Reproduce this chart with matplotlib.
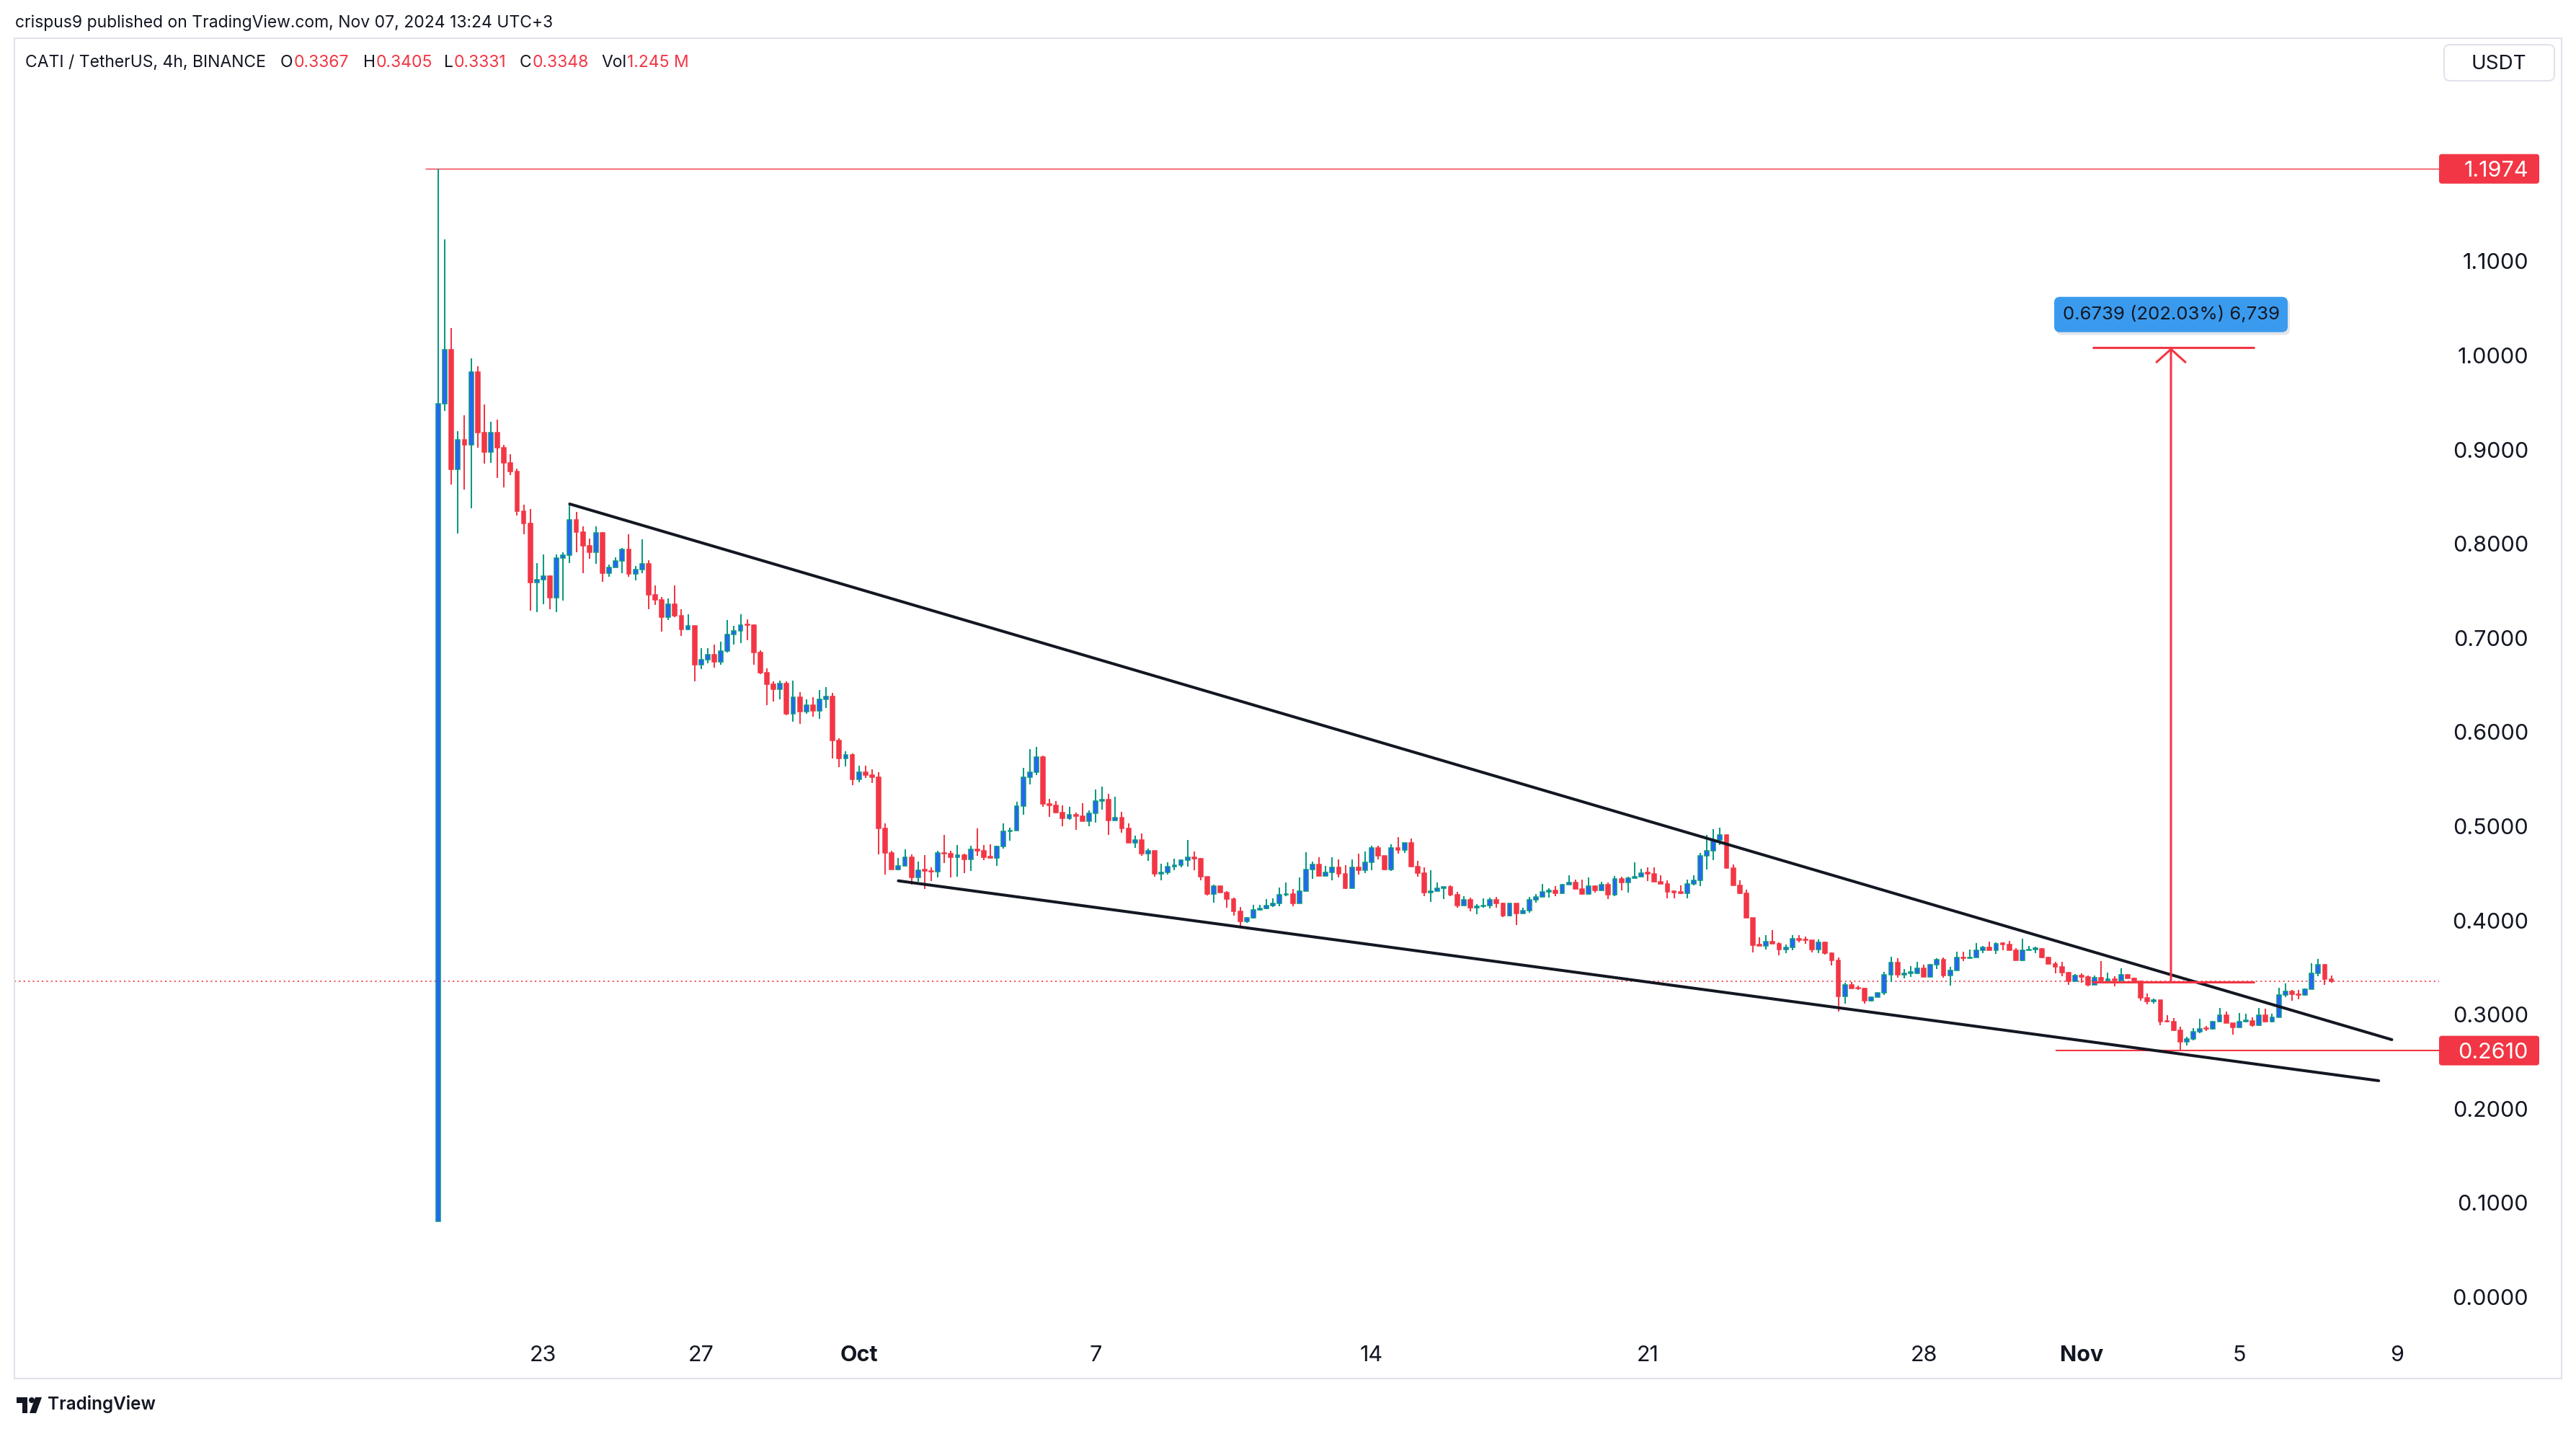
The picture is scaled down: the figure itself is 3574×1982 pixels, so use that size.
import numpy as np
import pandas as pd
import matplotlib
matplotlib.use("Agg")
import matplotlib.pyplot as plt
import matplotlib.dates as mdates
from matplotlib.patches import Rectangle, FancyBboxPatch, Circle, Polygon
from matplotlib.transforms import IdentityTransform, ScaledTranslation, blended_transform_factory

plt.rcParams["font.family"] = ["Inter", "DejaVu Sans"]

# ---- CATI/USDT 4h candles ----
start_time = "2024-09-20 08:00"
first_open = 0.080

close = [
    0.948, 1.005, 0.878, 0.910, 0.904, 0.982, 0.917, 0.897, 0.917, 0.901,
    0.885, 0.876, 0.834, 0.821, 0.758, 0.761, 0.765, 0.742, 0.784, 0.787,
    0.825, 0.812, 0.797, 0.790, 0.811, 0.768, 0.774, 0.781, 0.793, 0.767,
    0.772, 0.778, 0.745, 0.740, 0.721, 0.735, 0.723, 0.708, 0.712, 0.671,
    0.676, 0.6815, 0.674, 0.685, 0.703, 0.707, 0.713, 0.7125, 0.684, 0.6625,
    0.650, 0.645, 0.6505, 0.619, 0.636, 0.621, 0.6275, 0.622, 0.634, 0.637,
    0.590, 0.571, 0.575, 0.549, 0.557, 0.5536, 0.551, 0.497, 0.4706, 0.4535,
    0.4568, 0.466, 0.445, 0.4527, 0.452, 0.4507, 0.471, 0.4698, 0.466, 0.4686,
    0.4642, 0.4749, 0.4731, 0.466, 0.4655, 0.4775, 0.4936, 0.4949, 0.5204, 0.551,
    0.5566, 0.5727, 0.5229, 0.5216, 0.514, 0.5076, 0.5114, 0.5102, 0.5048, 0.5127,
    0.5257, 0.5273, 0.5056, 0.5084, 0.4969, 0.4818, 0.4846, 0.4701, 0.4731, 0.4489,
    0.4502, 0.456, 0.4578, 0.4629, 0.4662, 0.465, 0.4458, 0.4272, 0.4354, 0.4285,
    0.4221, 0.4086, 0.3978, 0.4017, 0.4101, 0.4119, 0.415, 0.417, 0.4264, 0.4274,
    0.4175, 0.4303, 0.4532, 0.4586, 0.4463, 0.4502, 0.4553, 0.4489, 0.4336, 0.4553,
    0.4527, 0.4611, 0.4762, 0.468, 0.4532, 0.4762, 0.4737, 0.4814, 0.4566, 0.4497,
    0.429, 0.4306, 0.4331, 0.4349, 0.4268, 0.4152, 0.4209, 0.4127, 0.414, 0.415,
    0.4209, 0.4176, 0.4043, 0.4171, 0.4068, 0.4099, 0.4209, 0.4242, 0.4293, 0.431,
    0.4278, 0.4375, 0.4393, 0.4329, 0.4273, 0.4354, 0.4311, 0.437, 0.4268, 0.4431,
    0.4393, 0.4439, 0.4459, 0.4497, 0.449, 0.4406, 0.4383, 0.4298, 0.429, 0.4283,
    0.4383, 0.4421, 0.4676, 0.4732, 0.4847, 0.4898, 0.4546, 0.4362, 0.4278, 0.4023,
    0.3731, 0.3724, 0.377, 0.3742, 0.3686, 0.3703, 0.38, 0.3782, 0.378, 0.3686,
    0.3757, 0.3647, 0.3571, 0.3188, 0.3308, 0.3272, 0.3268, 0.3137, 0.3175, 0.3221,
    0.3418, 0.3545, 0.3418, 0.343, 0.3433, 0.3481, 0.3392, 0.3525, 0.3576, 0.341,
    0.3464, 0.3596, 0.359, 0.36, 0.3673, 0.3703, 0.3678, 0.3745, 0.374, 0.3673,
    0.3571, 0.3673, 0.3686, 0.369, 0.3596, 0.3532, 0.3499, 0.3438, 0.3348, 0.3405,
    0.3395, 0.3308, 0.3387, 0.3354, 0.3362, 0.3356, 0.3417, 0.3379, 0.3348, 0.3167,
    0.3129, 0.3145, 0.292, 0.2915, 0.2825, 0.2703, 0.2733, 0.2813, 0.2843, 0.284,
    0.2915, 0.2983, 0.2902, 0.2856, 0.292, 0.2928, 0.2881, 0.2983, 0.292, 0.2966,
    0.32, 0.3239, 0.3206, 0.32, 0.3264, 0.343, 0.352, 0.3367, 0.3348,
]

high = [
    1.1974, 1.1225, 1.028, 0.919, 0.936, 0.996, 0.988, 0.947, 0.929, 0.931,
    0.904, 0.894, 0.879, 0.841, 0.836, 0.779, 0.788, 0.766, 0.788, 0.790,
    0.841, 0.833, 0.818, 0.805, 0.818, 0.812, 0.777, 0.785, 0.795, 0.809,
    0.776, 0.804, 0.782, 0.755, 0.743, 0.741, 0.755, 0.730, 0.724, 0.711,
    0.688, 0.688, 0.692, 0.695, 0.718, 0.712, 0.724, 0.719, 0.714, 0.686,
    0.667, 0.653, 0.654, 0.653, 0.654, 0.642, 0.634, 0.636, 0.644, 0.647,
    0.641, 0.593, 0.579, 0.5765, 0.5635, 0.5635, 0.560, 0.557, 0.502, 0.473,
    0.4655, 0.4744, 0.469, 0.4617, 0.4686, 0.4553, 0.473, 0.4897, 0.473, 0.479,
    0.470, 0.4783, 0.4966, 0.4795, 0.4803, 0.4788, 0.5025, 0.4974, 0.525, 0.5612,
    0.5809, 0.5834, 0.5745, 0.528, 0.526, 0.5211, 0.5199, 0.514, 0.5237, 0.516,
    0.5382, 0.5413, 0.5337, 0.5306, 0.5145, 0.5023, 0.489, 0.4915, 0.4752, 0.4731,
    0.4591, 0.4611, 0.4647, 0.4637, 0.4846, 0.4724, 0.4655, 0.446, 0.4374, 0.4367,
    0.4305, 0.4234, 0.4132, 0.403, 0.4157, 0.4157, 0.4221, 0.4226, 0.4344, 0.4395,
    0.4323, 0.4451, 0.4719, 0.4617, 0.466, 0.4573, 0.4662, 0.4637, 0.4578, 0.4637,
    0.4701, 0.4727, 0.4787, 0.4787, 0.468, 0.48, 0.4878, 0.4814, 0.486, 0.4625,
    0.4553, 0.4523, 0.4395, 0.4352, 0.4362, 0.4293, 0.4247, 0.4235, 0.4166, 0.4227,
    0.4235, 0.4242, 0.4184, 0.4171, 0.4176, 0.4125, 0.4242, 0.4273, 0.438, 0.4331,
    0.4354, 0.438, 0.4472, 0.4426, 0.4426, 0.4446, 0.4362, 0.44, 0.4393, 0.4464,
    0.4456, 0.4456, 0.461, 0.4541, 0.4554, 0.4554, 0.4472, 0.4421, 0.4311, 0.4362,
    0.4426, 0.4469, 0.4712, 0.4898, 0.4962, 0.4975, 0.490, 0.4587, 0.4418, 0.4319,
    0.4023, 0.3813, 0.3834, 0.389, 0.3757, 0.3737, 0.3834, 0.3839, 0.3818, 0.3782,
    0.3788, 0.377, 0.3652, 0.3596, 0.3328, 0.3341, 0.33, 0.3281, 0.318, 0.3226,
    0.3443, 0.3604, 0.3589, 0.3474, 0.3507, 0.355, 0.352, 0.3527, 0.3589, 0.3596,
    0.3502, 0.366, 0.366, 0.368, 0.375, 0.3724, 0.3765, 0.3757, 0.376, 0.3773,
    0.3698, 0.38, 0.3719, 0.3716, 0.3696, 0.3609, 0.355, 0.355, 0.3443, 0.3425,
    0.343, 0.3405, 0.3405, 0.3558, 0.3435, 0.34, 0.3481, 0.3423, 0.3387, 0.3353,
    0.3213, 0.3162, 0.3145, 0.2983, 0.2953, 0.2864, 0.2754, 0.2848, 0.2946, 0.2869,
    0.2925, 0.306, 0.3022, 0.2902, 0.3009, 0.3001, 0.2964, 0.306, 0.3052, 0.3001,
    0.3277, 0.3323, 0.3251, 0.3251, 0.3272, 0.3537, 0.3583, 0.3527, 0.3405,
]

low = [
    0.080, 0.940, 0.862, 0.810, 0.857, 0.837, 0.901, 0.884, 0.885, 0.869,
    0.859, 0.872, 0.829, 0.809, 0.728, 0.727, 0.735, 0.730, 0.727, 0.739,
    0.779, 0.790, 0.768, 0.783, 0.778, 0.759, 0.764, 0.774, 0.768, 0.764,
    0.760, 0.768, 0.730, 0.734, 0.706, 0.718, 0.721, 0.701, 0.7075, 0.653,
    0.666, 0.672, 0.668, 0.671, 0.684, 0.692, 0.694, 0.697, 0.671, 0.661,
    0.628, 0.632, 0.634, 0.617, 0.610, 0.608, 0.619, 0.6155, 0.6135, 0.625,
    0.571, 0.562, 0.563, 0.543, 0.546, 0.5505, 0.545, 0.469, 0.448, 0.4535,
    0.4527, 0.4568, 0.437, 0.440, 0.433, 0.4412, 0.4446, 0.4604, 0.445, 0.4458,
    0.4497, 0.4515, 0.468, 0.4629, 0.4655, 0.4573, 0.4752, 0.4841, 0.4949, 0.5114,
    0.5439, 0.5536, 0.5199, 0.5094, 0.5127, 0.4994, 0.5058, 0.4956, 0.5048, 0.4994,
    0.5033, 0.5165, 0.4903, 0.505, 0.4923, 0.4818, 0.4762, 0.468, 0.4624, 0.4458,
    0.442, 0.448, 0.4522, 0.4553, 0.4565, 0.4527, 0.442, 0.4259, 0.4183, 0.4285,
    0.4124, 0.4042, 0.3914, 0.397, 0.4012, 0.4093, 0.4114, 0.4132, 0.414, 0.4247,
    0.414, 0.4175, 0.4303, 0.443, 0.4463, 0.4463, 0.442, 0.4451, 0.4329, 0.4336,
    0.448, 0.4496, 0.4527, 0.4642, 0.4527, 0.4519, 0.4699, 0.4707, 0.4566, 0.4459,
    0.4252, 0.4191, 0.4305, 0.4222, 0.4252, 0.4127, 0.415, 0.4089, 0.4061, 0.4127,
    0.412, 0.4127, 0.403, 0.4038, 0.3946, 0.4063, 0.4076, 0.4184, 0.4242, 0.4234,
    0.4252, 0.4278, 0.4375, 0.4329, 0.4265, 0.4273, 0.4291, 0.4311, 0.4222, 0.4247,
    0.4311, 0.429, 0.4439, 0.4459, 0.4414, 0.4406, 0.4383, 0.4229, 0.4229, 0.4273,
    0.4229, 0.4367, 0.4357, 0.4536, 0.463, 0.4791, 0.4546, 0.4362, 0.4273, 0.4017,
    0.3655, 0.3724, 0.3686, 0.3742, 0.3622, 0.3648, 0.3678, 0.3757, 0.3742, 0.3655,
    0.3648, 0.3627, 0.3512, 0.3022, 0.3111, 0.3272, 0.3252, 0.3111, 0.3129, 0.3175,
    0.32, 0.3341, 0.3387, 0.338, 0.3392, 0.342, 0.3392, 0.339, 0.3474, 0.3387,
    0.3303, 0.3464, 0.3558, 0.3583, 0.3596, 0.3648, 0.3678, 0.3635, 0.3673, 0.3673,
    0.3571, 0.3558, 0.3673, 0.3647, 0.3588, 0.3532, 0.343, 0.34, 0.331, 0.3348,
    0.3334, 0.329, 0.3308, 0.3334, 0.3348, 0.329, 0.3356, 0.3379, 0.3341, 0.3137,
    0.3104, 0.3111, 0.2881, 0.291, 0.2817, 0.261, 0.2664, 0.272, 0.2792, 0.2818,
    0.2836, 0.2915, 0.2902, 0.2779, 0.2856, 0.2918, 0.2864, 0.2874, 0.2912, 0.2912,
    0.2966, 0.3175, 0.3137, 0.3157, 0.3195, 0.3264, 0.34, 0.3308, 0.3331,
]

tick_dates = ["2024-09-23", "2024-09-27", "2024-10-01", "2024-10-07", "2024-10-14",
              "2024-10-21", "2024-10-28", "2024-11-01", "2024-11-05", "2024-11-09"]
tick_labels = ["23", "27", "Oct", "7", "14", "21", "28", "Nov", "5", "9"]
price_ticks = [0.0, 0.1, 0.2, 0.3, 0.4, 0.5, 0.6, 0.7, 0.8, 0.9, 1.0, 1.1]

# drawings on the chart
upper_line_t = ["2024-09-23 16:00", "2024-11-08 20:48"]
upper_line_p = [0.8415, 0.2726]
lower_line_t = ["2024-10-02 00:00", "2024-11-08 12:48"]
lower_line_p = [0.4413, 0.2290]
ath_price = 1.1974
ath_from = "2024-09-20 00:00"
bottom_price = 0.2610
bottom_from = "2024-10-31 08:00"
measure_from = 0.3336
measure_to = 1.0075
measure_t = ["2024-11-01 06:24", "2024-11-03 06:24", "2024-11-05 09:12"]
measure_text = "0.6739 (202.03%) 6,739"
volume_text = "1.245 M"

# ---- colours / canvas ----
W, H = 3574, 1982
UP_EDGE = "#089981"
UP_FILL = "#2962FF"
RED = "#F23645"
INK = "#131722"
BORDER = "#E0E3EB"

fig = plt.figure(figsize=(W / 100, H / 100), dpi=100)
fig.patch.set_facecolor("white")


def fx(xp):
    return xp / W


def fy(yp):  # pixels from the top -> figure fraction
    return 1 - yp / H


ax = fig.add_axes([fx(20), fy(1841), fx(3384) - fx(20), fy(53) - fy(1841)])
ax.set_facecolor("none")
for s in ax.spines.values():
    s.set_visible(False)
ax.set_xticks([])
ax.set_yticks([])

times = pd.date_range(start_time, periods=len(close), freq="4h")
x = mdates.date2num(times)
c = np.array(close)
h = np.array(high)
l = np.array(low)
o = np.r_[first_open, c[:-1]]
up = c >= o
step = 1 / 6  # one 4h candle in days
px_per_day = 54.72
ax.set_xlim(x[0] - (608 - 20) / px_per_day, x[0] + (3384 - 608) / px_per_day)
ax.set_ylim(-0.03292, 1.33614)

# current price line
ax.axhline(c[-1], color=RED, lw=1.2, ls=(0, (1.3, 2.5)), zorder=2)

# candles
col = np.where(up, UP_EDGE, RED)
ax.vlines(x, l, h, colors=col, linewidth=1.45, zorder=3)
body_bottom = np.minimum(o, c)
body_h = np.maximum(np.abs(c - o), 0.0012)
ax.bar(x, body_h, width=0.64 * step, bottom=body_bottom,
       color=np.where(up, UP_FILL, RED), edgecolor=col, linewidth=1.1, zorder=4)

# wedge lines
ax.plot(mdates.date2num(pd.to_datetime(upper_line_t)), upper_line_p, color=INK, lw=2.9,
        solid_capstyle="round", zorder=5)
ax.plot(mdates.date2num(pd.to_datetime(lower_line_t)), lower_line_p, color=INK, lw=2.9,
        solid_capstyle="round", zorder=5)

xr = ax.get_xlim()[1]
ax.hlines(ath_price, mdates.date2num(pd.Timestamp(ath_from)), xr, color=RED, lw=1.0, zorder=2)
ax.hlines(bottom_price, mdates.date2num(pd.Timestamp(bottom_from)), xr, color=RED, lw=1.5, zorder=2)

# measure tool
mx = mdates.date2num(pd.to_datetime(measure_t))
ax.hlines([measure_from, measure_to], mx[0], mx[2], color=RED, lw=2.2, zorder=6)
ax.annotate("", xy=(mx[1], measure_to), xytext=(mx[1], measure_from),
            arrowprops=dict(arrowstyle="->,head_length=0.65,head_width=0.72", color=RED, lw=2.2,
                            shrinkA=0, shrinkB=0, mutation_scale=20), zorder=6)

ident = IdentityTransform()
lx, ly = ax.transData.transform((mx[1], measure_to))
ly += 46
fig.add_artist(FancyBboxPatch((lx - 162 + 3, ly - 24.5 - 4), 324, 49,
                              boxstyle="round,pad=0,rounding_size=8",
                              fc="#B0B8C8", ec="none", alpha=0.35, transform=ident))
fig.add_artist(FancyBboxPatch((lx - 162, ly - 24.5), 324, 49, boxstyle="round,pad=0,rounding_size=8",
                              fc="#3A9BEE", ec="none", transform=ident))
fig.text(lx, ly, measure_text, transform=ident, ha="center", va="center",
         fontsize=18.5, color=INK)

# price scale (labels nudged down a few px to sit like TradingView's)
nudge = ScaledTranslation(0, -4 / 100, fig.dpi_scale_trans)
ytrans = blended_transform_factory(fig.transFigure, ax.transData) + nudge
for p in price_ticks:
    ax.text(fx(3508), p, f"{p:.4f}", transform=ytrans, ha="right", va="center",
            fontsize=22, color=INK, clip_on=False)

for p in [ath_price, bottom_price]:
    yc = ax.transData.transform((x[0], p))[1]
    fig.add_artist(FancyBboxPatch((3384, yc - 20.5), 139, 41, boxstyle="round,pad=0,rounding_size=4",
                                  fc=RED, ec="none", transform=ident))
    fig.text(3508, yc - 3, f"{p:.4f}", transform=ident, ha="right", va="center",
             color="white", fontsize=22)

# time scale
xtrans = blended_transform_factory(ax.transData, fig.transFigure)
for d, lab in zip(tick_dates, tick_labels):
    ax.text(mdates.date2num(pd.Timestamp(d)), fy(1880), lab, transform=xtrans, ha="center",
            va="center", fontsize=22, color=INK, clip_on=False,
            fontweight="bold" if lab in ("Oct", "Nov") else "normal")

# pane frame + USDT box
fig.add_artist(Rectangle((20, H - 1912), 3554 - 20, 1912 - 53, fill=False, ec=BORDER,
                         lw=1.5, transform=ident))
fig.add_artist(FancyBboxPatch((3391, H - 112), 153, 50, boxstyle="round,pad=0,rounding_size=8",
                              fc="white", ec=BORDER, lw=1.5, transform=ident))
fig.text(3467, H - 89, "USDT", transform=ident, ha="center", va="center", fontsize=20, color=INK)

# header
fig.text(fx(21), fy(32), "crispus9 published on TradingView.com, Nov 07, 2024 13:24 UTC+3",
         fontsize=16.5, color=INK, va="center")
renderer = fig.canvas.get_renderer()


def put(xp, s, color):
    t = fig.text(fx(xp), fy(87), s, fontsize=16.5, color=color, va="center")
    return t.get_window_extent(renderer).x1


put(35, "CATI / TetherUS, 4h, BINANCE", INK)
legend_vals = [f"{o[-1]:.4f}", f"{h[-1]:.4f}", f"{l[-1]:.4f}", f"{c[-1]:.4f}", volume_text]
for key, val, xk in zip(["O", "H", "L", "C", "Vol"], legend_vals, [389, 504, 616, 721, 834]):
    e = put(xk, key, INK)
    put(e + 1, val, RED)

# TradingView mark
fig.add_artist(Rectangle((23, H - 1946), 15, 8, fc=INK, ec="none", transform=ident))
fig.add_artist(Rectangle((31, H - 1960), 7, 22, fc=INK, ec="none", transform=ident))
fig.add_artist(Circle((44, H - 1942), 4, fc=INK, ec="none", transform=ident))
fig.add_artist(Polygon([(49, H - 1938), (58, H - 1938), (50, H - 1960), (41, H - 1960)],
                       closed=True, fc=INK, ec="none", transform=ident))
fig.text(66, H - 1948, "TradingView", transform=ident, ha="left", va="center",
         fontsize=17.5, fontweight="semibold", color=INK)

fig.savefig("out.png", dpi=100, facecolor="white")
